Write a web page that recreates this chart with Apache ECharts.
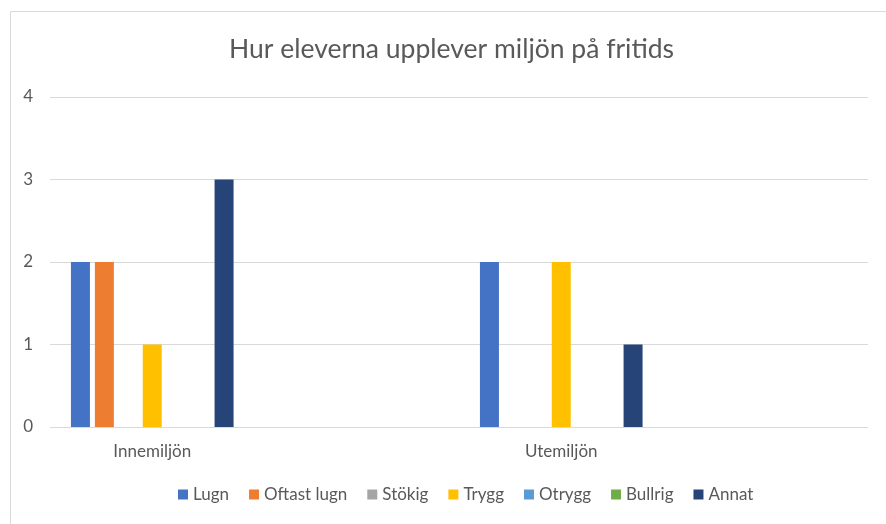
<!DOCTYPE html>
<html>
<head>
<meta charset="utf-8">
<script src="https://cdn.jsdelivr.net/npm/echarts@6/dist/echarts.min.js"></script>
<style>
  html, body { margin: 0; padding: 0; background: #fff; }
  #main { width: 886px; height: 524px; }
</style>
</head>
<body>
<div id="main"></div>
<script>
// kategorier (två tomma platser som i Excel-diagrammet)
var categories = ['Innemiljön', '', 'Utemiljön', ''];

var seriesNames = ['Lugn', 'Oftast lugn', 'Stökig', 'Trygg', 'Otrygg', 'Bullrig', 'Annat'];
var seriesColors = ['#4472C4', '#ED7D31', '#A5A5A5', '#FFC000', '#5B9BD5', '#70AD47', '#264478'];

var lugn = [2, null, 2, null];
var oftastLugn = [2, null, 0, null];
var stokig = [0, null, 0, null];
var trygg = [1, null, 2, null];
var otrygg = [0, null, 0, null];
var bullrig = [0, null, 0, null];
var annat = [3, null, 1, null];

var yTicks = [0, 1, 2, 3, 4];

var allData = [lugn, oftastLugn, stokig, trygg, otrygg, bullrig, annat];

var myChart = echarts.init(document.getElementById('main'));

var series = [];
for (var i = 0; i < seriesNames.length; i++) {
  series.push({
    name: seriesNames[i],
    type: 'bar',
    data: allData[i],
    barWidth: 19,
    barGap: '26%',
    itemStyle: { color: seriesColors[i] }
  });
}

myChart.setOption({
  textStyle: { fontFamily: 'Lato' },
  title: {
    text: 'Hur eleverna upplever miljön på fritids',
    left: 224,
    top: 31,
    textStyle: { fontFamily: 'Lato', fontSize: 26.5, fontWeight: 'normal', color: '#595959' }
  },
  legend: {
    data: seriesNames,
    bottom: 21,
    left: 178,
    padding: 0,
    itemWidth: 10,
    itemHeight: 10,
    itemGap: 20,
    icon: 'rect',
    textStyle: { fontFamily: 'Lato', fontSize: 17, color: '#595959' }
  },
  graphic: [{
    type: 'rect',
    shape: { x: 10.5, y: 11.5, width: 900, height: 600 },
    style: { fill: 'none', stroke: '#d9d9d9', lineWidth: 1 },
    silent: true
  }],
  grid: {
    left: 50,
    right: 18,
    top: 97,
    bottom: 97
  },
  xAxis: {
    type: 'category',
    data: categories,
    axisLine: { show: false },
    axisTick: { show: false },
    axisLabel: { fontFamily: 'Lato', fontSize: 17, color: '#595959', margin: 16 }
  },
  yAxis: {
    type: 'value',
    min: 0,
    max: 4,
    interval: 1,
    axisLine: { show: false },
    axisTick: { show: false },
    axisLabel: {
      fontFamily: 'Lato', fontSize: 17, color: '#595959', margin: 17,
      formatter: function (v) { return yTicks.indexOf(v) >= 0 ? String(v) : ''; }
    },
    splitLine: { lineStyle: { color: '#d9d9d9', width: 1 } }
  },
  series: series
});
</script>
</body>
</html>
